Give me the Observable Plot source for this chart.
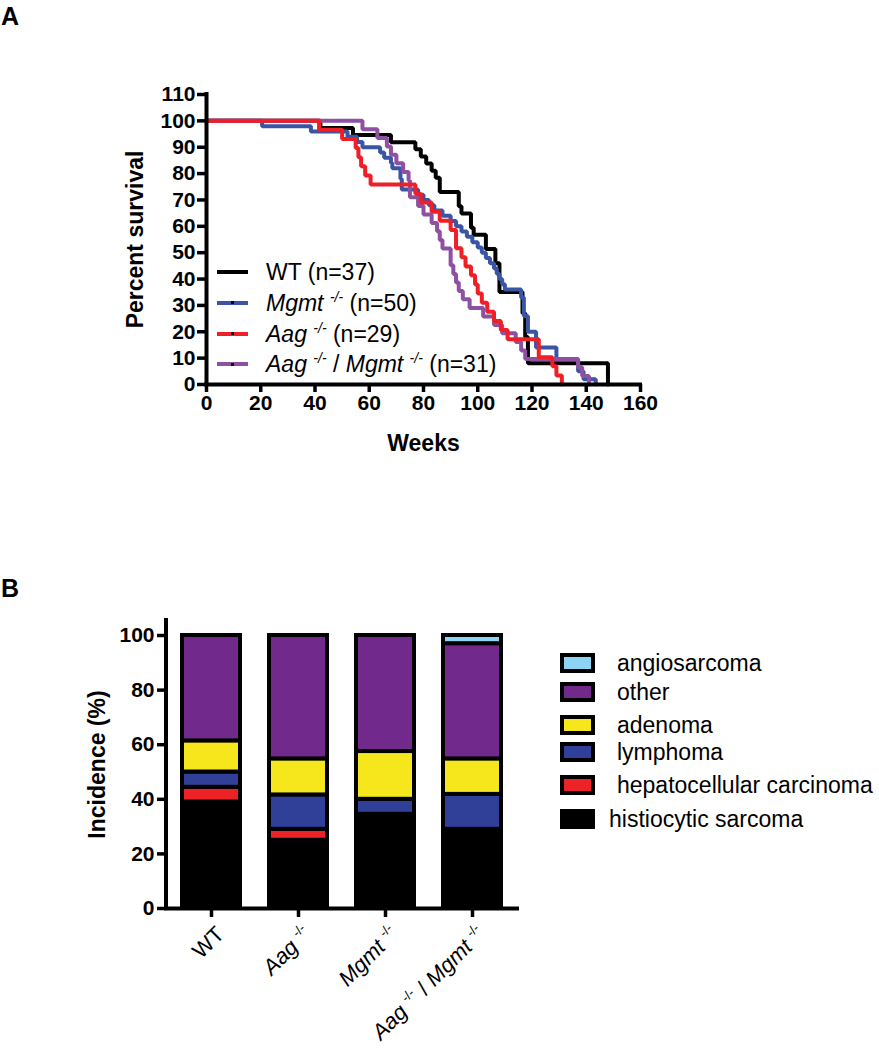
<!DOCTYPE html>
<html>
<head>
<meta charset="utf-8">
<script src="https://cdn.jsdelivr.net/npm/d3@7"></script>
<script src="https://cdn.jsdelivr.net/npm/@observablehq/plot@0.6"></script>
<style>
  body { margin: 0; background: #fff; }
  #page { position: relative; width: 879px; height: 1050px; overflow: hidden; background: #fff;
          font-family: "Liberation Sans", Arial, Helvetica, sans-serif; color: #000; }
  .panel { position: absolute; font-weight: bold; font-size: 25px; line-height: 30px; }
  .chart { position: absolute; left: 0; }
  .chart svg { overflow: visible; }
  .chart g[aria-label="x-axis label"] text, .chart g[aria-label="y-axis label"] text { font-size: 23px; font-weight: bold; }
  #bar g[aria-label="x-axis tick label"] text { font-weight: normal; font-size: 22px; white-space: pre; }
  .legrow { position: absolute; height: 30px; line-height: 30px; font-size: 23px; white-space: pre; }
  .legline { position: absolute; width: 31px; height: 4px; }
  .legdot { position: absolute; left: 14px; top: 0.5px; width: 3px; height: 3px; background: #000; }
  .sup { font-size: 14px; position: relative; top: -9px; font-style: italic; }
  .swatch { position: absolute; width: 35px; height: 20px; box-sizing: border-box; border: 4px solid #000; }
  .btext { position: absolute; font-size: 23px; line-height: 30px; white-space: pre; }
</style>
</head>
<body>
<div id="page">
  <div class="panel" style="left:1px;top:1px;">A</div>
  <div class="panel" style="left:1px;top:573px;">B</div>
  <div id="surv" class="chart" style="top:0px;"></div>
  <div id="bar" class="chart" style="top:560px;"></div>
</div>
<script>
// ---------------- Panel A data: Kaplan-Meier steps [week, percent survival] ----------------
const survivalXTicks = [0, 20, 40, 60, 80, 100, 120, 140, 160];
const survivalYTicks = [0, 10, 20, 30, 40, 50, 60, 70, 80, 90, 100, 110];

const wtSurvival = [[0,100],[42,97.3],[54,94.6],[68,91.9],[77,89.2],[79,86.5],[81,83.8],[83,81.1],[84.5,78.4],[86,73],[93,67.6],[94,64.9],[97.5,59.5],[98.5,56.8],[103,51.4],[106.5,46],[108,35.1],[116.5,27],[117.5,18],[118.5,8.1],[148,0]];
const mgmtSurvival = [[0,100],[20.5,98],[38.5,96],[52,94],[55.5,92],[57.5,90],[64,88],[65.5,86],[68,84],[68.5,82],[71.5,78],[72,74],[78,72],[80,70],[82,68],[84,66],[87,64],[90,62],[92,60],[94,58],[96,56],[98,54],[100,52],[101.5,50],[103,48],[104.5,46],[106,44],[107,42],[108,40],[109,38],[110,36],[116,33],[117,26],[118.5,20],[121.5,14],[129,9.5],[137,5],[139,2],[143.5,0]];
const aagSurvival = [[0,100],[41.5,96.6],[50,93.1],[55,89.7],[56,86.2],[57,82.8],[58.5,79.3],[60.5,75.9],[77,72.4],[79,69],[83,65.5],[86,62.1],[90,58.6],[92,51.7],[94,48.3],[95.5,44.8],[97.5,41.4],[99,37.9],[100,34.5],[101.5,31],[103.5,27.6],[106,24.1],[108.5,20.7],[111,17.2],[122.5,10.3],[127.5,6.9],[129,3.4],[131,0]];
const aagMgmtSurvival = [[0,100],[57.5,96.8],[63,93.5],[66.5,90.3],[68,87.1],[70,83.9],[72.5,80.6],[74.5,77.4],[75,71],[78,67.7],[80,64.5],[83,61.3],[85,58.1],[86,54.8],[87,51.6],[90,45.2],[91,41.9],[92,38.7],[93,35.5],[94.5,32.3],[97,29],[102,25.8],[106,22.6],[109,19.4],[114,16.1],[116,12.9],[117.5,9.7],[137,6.5],[138.5,3.2],[141,0]];

const survivalNames = ["WT (n=37)", "Mgmt -/- (n=50)", "Aag -/- (n=29)", "Aag -/- / Mgmt -/- (n=31)"];
const survivalColors = ["#000000", "#3a55a4", "#ee1f26", "#8e51a2"];
const survivalData = [wtSurvival, mgmtSurvival, aagSurvival, aagMgmtSurvival];
const survivalDrawOrder = [0, 1, 3, 2];

// ---------------- Panel B data: tumour incidence (%) ----------------
const groups = ["WT", "Aag -/-", "Mgmt -/-", "Aag -/- / Mgmt -/-"];
const tumorTypes = ["histiocytic sarcoma", "hepatocellular carcinoma", "lymphoma", "adenoma", "other", "angiosarcoma"];
const tumorColors = ["#000000", "#ec2227", "#303f98", "#f5e71b", "#72298c", "#8dd3f3"];
const histiocyticSarcoma      = [39.0, 25.0, 34.5, 29.0];
const hepatocellularCarcinoma = [5.4, 4.0, 0.0, 0.0];
const lymphoma                = [5.6, 12.6, 5.5, 12.8];
const adenoma                 = [11.4, 13.2, 17.5, 13.0];
const other                   = [38.6, 45.2, 42.5, 42.2];
const angiosarcoma            = [0.0, 0.0, 0.0, 3.0];
const incidenceTicks = [0, 20, 40, 60, 80, 100];
const incidenceAxisTop = 105.5;

// ---------------- helpers ----------------
function tokens(label) {
  return label.split(/(\s+)/).filter(s => s.length).map(t => ({
    text: t,
    kind: t === "-/-" ? "sup" : (/^(Aag|Mgmt)$/.test(t) ? "ital" : "plain")
  }));
}
function richHTML(label) {
  return tokens(label).map(t => t.kind === "sup" ? `<span class="sup">${t.text}</span>`
    : t.kind === "ital" ? `<i>${t.text}</i>` : t.text).join("");
}
function richSVG(textEl, label) {
  const sel = d3.select(textEl);
  sel.text(null).style("white-space", "pre");
  let raised = false;
  for (const t of tokens(label)) {
    const ts = sel.append("tspan").text(t.text);
    if (t.kind === "sup") {
      ts.attr("font-size", 13).attr("dy", raised ? 0 : -9);
      raised = true;
    } else {
      if (raised) { ts.attr("dy", 9); raised = false; }
      if (t.kind === "ital") ts.attr("font-style", "italic");
    }
  }
}
const FONT = '"Liberation Sans", Arial, Helvetica, sans-serif';

// ---------------- Panel A chart ----------------
const survivalLines = survivalDrawOrder.map(i =>
  Plot.line(survivalData[i], {x: d => d[0], y: d => d[1], curve: "step-after",
    stroke: survivalColors[i], strokeWidth: 4, strokeLinejoin: "miter"}));

const surv = Plot.plot({
  width: 879, height: 470,
  marginTop: 94, marginBottom: 86, marginLeft: 206, marginRight: 239,
  x: {domain: [0, 160]},
  y: {domain: [0, 110]},
  style: {fontFamily: FONT, fontSize: "21px", fontWeight: "bold", color: "#000", background: "transparent"},
  marks: [
    ...survivalLines,
    Plot.ruleX([0], {y1: 0, y2: 110, strokeWidth: 4, strokeLinecap: "square"}),
    Plot.ruleY([0], {x1: 0, x2: 160, strokeWidth: 4, strokeLinecap: "square"}),
    Plot.axisX(survivalXTicks, {tickSize: 8, tickPadding: 3, strokeWidth: 3.5,
      label: "Weeks", labelAnchor: "center", labelOffset: 66, labelArrow: "none"}),
    Plot.axisY(survivalYTicks, {tickSize: 9, tickPadding: 2, strokeWidth: 3.5,
      label: "Percent survival", labelAnchor: "center", labelOffset: 80, labelArrow: "none"})
  ]
});
document.getElementById("surv").appendChild(surv);

// legend for panel A
const page = document.getElementById("page");
survivalNames.forEach((name, i) => {
  const cy = 272 + i * 30.8;
  const line = document.createElement("div");
  line.className = "legline";
  line.style.left = "217px"; line.style.top = (cy - 2) + "px";
  line.style.background = survivalColors[i];
  const dot = document.createElement("div"); dot.className = "legdot";
  line.appendChild(dot);
  page.appendChild(line);
  const row = document.createElement("div");
  row.className = "legrow";
  row.style.left = "266px"; row.style.top = (cy - 15) + "px";
  row.innerHTML = richHTML(name);
  page.appendChild(row);
});

// ---------------- Panel B chart ----------------
const tumorSeries = [histiocyticSarcoma, hepatocellularCarcinoma, lymphoma, adenoma, other, angiosarcoma];
const barRows = [];
groups.forEach((g, gi) => tumorTypes.forEach((t, ti) => {
  const v = tumorSeries[ti][gi];
  if (v > 0) barRows.push({group: g, type: t, value: v});
}));

const yAxisLine = (index, scales, values, dimensions) => {
  const l = document.createElementNS("http://www.w3.org/2000/svg", "line");
  l.setAttribute("x1", dimensions.marginLeft); l.setAttribute("x2", dimensions.marginLeft);
  l.setAttribute("y1", scales.y(0)); l.setAttribute("y2", scales.y(incidenceAxisTop));
  l.setAttribute("stroke", "#000"); l.setAttribute("stroke-width", 4); l.setAttribute("stroke-linecap", "square");
  return l;
};

const bar = Plot.plot({
  width: 879, height: 490,
  marginTop: 60, marginBottom: 142, marginLeft: 166, marginRight: 362,
  x: {domain: groups, paddingInner: 0.337, paddingOuter: 0.171, align: 0.5},
  y: {domain: [0, incidenceAxisTop]},
  color: {domain: tumorTypes, range: tumorColors},
  style: {fontFamily: FONT, fontSize: "21px", fontWeight: "bold", color: "#000", background: "transparent"},
  marks: [
    Plot.barY(barRows, {x: "group", y: "value", fill: "type", stroke: "#000", strokeWidth: 4, inset: 0}),
    Plot.ruleY([0], {strokeWidth: 4, strokeLinecap: "square"}),
    yAxisLine,
    Plot.axisY(incidenceTicks, {tickSize: 9, tickPadding: 3, strokeWidth: 3.5,
      label: "Incidence (%)", labelAnchor: "center", labelOffset: 78, labelArrow: "none"}),
    Plot.axisX({tickSize: 9, tickPadding: 4, strokeWidth: 3.5, tickRotate: -45, label: null})
  ]
});
document.getElementById("bar").appendChild(bar);
const tickLabelGroup = d3.select(bar).select('g[aria-label="x-axis tick label"]');
tickLabelGroup.attr("transform", ((tickLabelGroup.attr("transform") || "") + " translate(9,9)").trim());
tickLabelGroup.selectAll("text").each(function() {
  richSVG(this, this.textContent);
});

// legend for panel B (top to bottom = reverse stack order)
const legendOrder = [5, 4, 3, 2, 1, 0];
const legendCenters = [663, 692, 725, 752, 785, 819];
legendOrder.forEach((ti, k) => {
  const cy = legendCenters[k];
  const sw = document.createElement("div");
  sw.className = "swatch";
  sw.style.left = "560px"; sw.style.top = (cy - 10) + "px";
  sw.style.background = tumorColors[ti];
  page.appendChild(sw);
  const tx = document.createElement("div");
  tx.className = "btext";
  tx.style.left = (ti === 0 ? 609 : 617) + "px"; tx.style.top = (cy - 15) + "px";
  tx.textContent = tumorTypes[ti];
  page.appendChild(tx);
});
</script>
</body>
</html>
